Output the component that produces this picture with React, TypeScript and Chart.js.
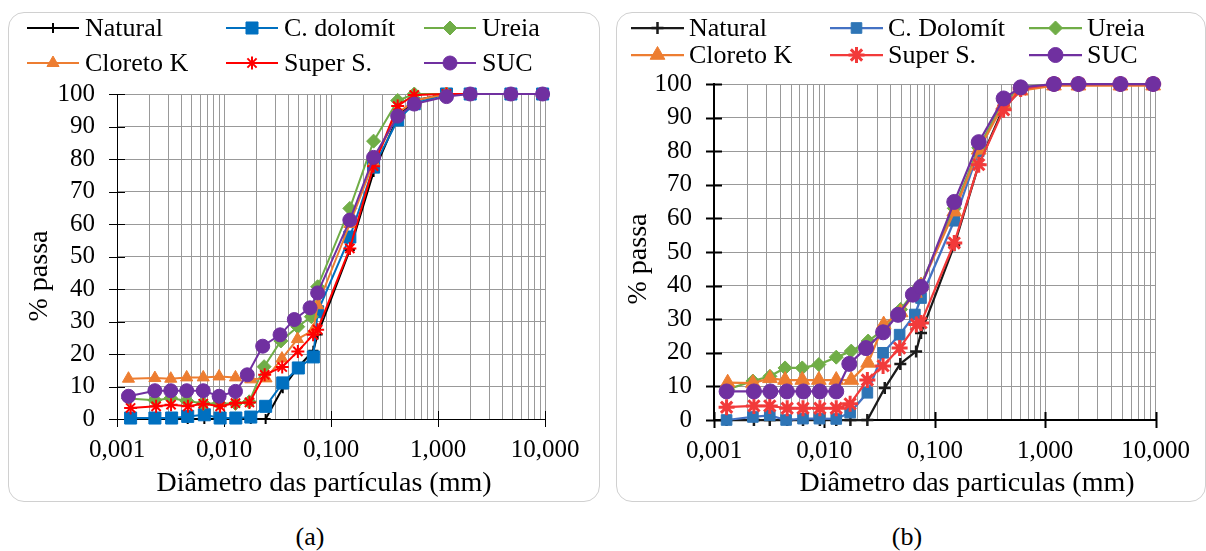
import React, { useEffect, useRef } from 'react';
import { Chart, registerables } from 'chart.js';
import { drawPoint } from 'chart.js/helpers';

Chart.register(...registerables);

const FONT = "'Liberation Serif', Tinos, 'Times New Roman', Times, 'Noto Serif', 'DejaVu Serif', FreeSerif, 'Nimbus Roman', serif";

// ---------- axis ticks ----------
const xTickValues = [0.001, 0.01, 0.1, 1, 10];
const xTickLabels = ['0,001', '0,010', '0,100', '1,000', '10,000'];
const minorMultipliers = [2, 3, 4, 5, 6, 7, 8, 9];
const yTickStep = 10;

// ---------- series names ----------
const namesA = ['Natural', 'C. dolomít', 'Ureia', 'Cloreto K', 'Super S.', 'SUC'];
const namesB = ['Natural', 'C. Dolomít', 'Ureia', 'Cloreto K', 'Super S.', 'SUC'];

// sieve diameters (mm), common to all series
const sieveD = [0.075, 0.15, 0.25, 0.42, 0.6, 1.2, 2.0, 4.8, 9.5];

// ---------- panel (a): sedimentation diameters + % passing ----------
const aNaturalD = [0.00134, 0.00226, 0.00324, 0.00458, 0.00655, 0.0092, 0.0129, 0.0178, 0.0245, 0.0354, 0.0495, 0.0684];
const aNatural = [0, 0, 0, 0, 0, 0, 0, 0, 0, 9.5, 16, 21, 26, 52, 76, 93, 98, 100, 100, 100, 100];
const aDolomitD = [0.00134, 0.00226, 0.00324, 0.00458, 0.00655, 0.0092, 0.0129, 0.0178, 0.0245, 0.0354, 0.0495, 0.0684];
const aDolomit = [0.3, 0.3, 0.3, 0.8, 1.3, 0.3, 0.3, 0.6, 3.9, 11.1, 15.7, 19.1, 33, 56, 77.5, 92, 97, 100, 100, 100, 100];
const aUreiaD = [0.00128, 0.00226, 0.00318, 0.00448, 0.0064, 0.009, 0.0128, 0.0172, 0.0237, 0.034, 0.0489, 0.0655];
const aUreia = [6.3, 5.8, 6.4, 5.6, 4.8, 4.8, 4.8, 5.3, 16.1, 24, 28.4, 31.5, 40.7, 64.8, 85.5, 98, 100, 100, 100, 100, 100];
const aCloretoD = [0.00128, 0.00226, 0.00318, 0.00448, 0.0064, 0.009, 0.0128, 0.0178, 0.0247, 0.0348, 0.0486, 0.0682];
const aCloreto = [12.4, 12.6, 12.4, 12.8, 12.8, 13.1, 12.8, 12.2, 12.5, 18.6, 24.6, 27.3, 35, 60, 79, 94, 98, 100, 100, 100, 100];
const aSuperD = [0.00134, 0.00232, 0.0032, 0.0046, 0.0064, 0.0092, 0.0128, 0.0173, 0.024, 0.035, 0.049, 0.068];
const aSuper = [3.4, 3.9, 4.4, 3.9, 4.7, 3.9, 4.9, 5.1, 13.6, 16, 20.8, 25.9, 27.5, 52.5, 77.8, 96.3, 99.7, 100, 100, 100, 100];
const aSucD = [0.00128, 0.00226, 0.00318, 0.00448, 0.0064, 0.009, 0.0128, 0.0165, 0.023, 0.0334, 0.0454, 0.0637];
const aSuc = [7.0, 8.7, 8.7, 8.7, 8.7, 7.0, 8.5, 13.6, 22.4, 25.9, 30.6, 34.2, 38.8, 61.2, 80.5, 93.2, 96.9, 99.2, 100, 100, 100];

// ---------- panel (b) ----------
const bNaturalD = [0.0013, 0.0023, 0.0032, 0.0046, 0.0064, 0.0091, 0.0128, 0.0172, 0.0245, 0.0352, 0.0487, 0.0677];
const bNatural = [0, 0, 0, 0, 0, 0, 0, 0, 0, 9.5, 16.7, 20.4, 25.9, 52, 76, 93, 98, 100, 100, 100, 100];
const bDolomitD = [0.0013, 0.00225, 0.0032, 0.0045, 0.0064, 0.009, 0.0128, 0.0171, 0.0245, 0.034, 0.048, 0.066];
const bDolomit = [0, 0.9, 1.4, 0, 0.4, 0.4, 0.3, 2.2, 8.1, 20, 25.4, 31.4, 36.3, 59.3, 80, 95, 98.5, 100, 100, 100, 100];
const bUreiaD = [0.00133, 0.00225, 0.00321, 0.0044, 0.0063, 0.0089, 0.0128, 0.0175, 0.0249, 0.0344, 0.049, 0.066];
const bUreia = [9.1, 11.6, 13, 15.5, 15.5, 16.5, 18.7, 20.5, 23.5, 26.9, 32.9, 38.3, 40.3, 63, 81, 95, 99, 100, 100, 100, 100];
const bCloretoD = [0.00133, 0.00225, 0.00321, 0.0044, 0.0063, 0.0089, 0.0128, 0.0175, 0.0249, 0.0344, 0.049, 0.066];
const bCloreto = [11.1, 11, 12.4, 11.9, 11.9, 11.9, 11.9, 11.9, 17, 28.4, 32, 37.8, 40, 62, 80.4, 94, 98, 99.5, 99.5, 99.5, 99.5];
const bSuperD = [0.0013, 0.0023, 0.0032, 0.0046, 0.0064, 0.0091, 0.0128, 0.0171, 0.0245, 0.034, 0.048, 0.068];
const bSuper = [3.8, 4.2, 4.2, 3.5, 3.5, 3.5, 3.5, 4.8, 11.9, 16.1, 21.4, 28.4, 28.9, 52.7, 76, 92.3, 98.5, 100, 100, 100, 100];
const bSucD = [0.0013, 0.0023, 0.00324, 0.00457, 0.00645, 0.0091, 0.0128, 0.0168, 0.0238, 0.034, 0.0465, 0.0633];
const bSuc = [8.5, 8.5, 8.5, 8.5, 8.5, 8.5, 8.5, 16.7, 21.4, 26.1, 31.3, 37.3, 39.6, 64.9, 82.7, 95.7, 99, 100, 100, 100, 100];

type Style = { color: string; pointColor: string; pointStyle: string; radius: number; pbw: number; lw: number };

const stylesA: Style[] = [
  { color: '#000000', pointColor: '#000000', pointStyle: 'cross', radius: 5, pbw: 2, lw: 2 },
  { color: '#0070C0', pointColor: '#0070C0', pointStyle: 'rect', radius: 8.5, pbw: 1, lw: 2 },
  { color: '#70AD47', pointColor: '#70AD47', pointStyle: 'rectRot', radius: 7, pbw: 1, lw: 2 },
  { color: '#ED7D31', pointColor: '#ED7D31', pointStyle: 'triangle', radius: 7, pbw: 1, lw: 2 },
  { color: '#FF0000', pointColor: '#FF0000', pointStyle: 'star', radius: 6.5, pbw: 2, lw: 2 },
  { color: '#7030A0', pointColor: '#7030A0', pointStyle: 'circle', radius: 7, pbw: 1, lw: 2 },
];
const stylesB: Style[] = [
  { color: '#1A1A1A', pointColor: '#1A1A1A', pointStyle: 'cross', radius: 6, pbw: 2.5, lw: 2.25 },
  { color: '#4472C4', pointColor: '#2E75B6', pointStyle: 'rect', radius: 7.5, pbw: 1, lw: 2.25 },
  { color: '#70AD47', pointColor: '#70AD47', pointStyle: 'rectRot', radius: 7, pbw: 1, lw: 2.25 },
  { color: '#ED7D31', pointColor: '#ED7D31', pointStyle: 'triangle', radius: 8.5, pbw: 1, lw: 2.25 },
  { color: '#F23A3A', pointColor: '#F23A3A', pointStyle: 'star', radius: 8, pbw: 3, lw: 2.25 },
  { color: '#7030A0', pointColor: '#7030A0', pointStyle: 'circle', radius: 7.5, pbw: 1, lw: 2.25 },
];

type Panel = {
  names: string[];
  diam: number[][];
  vals: number[][];
  styles: Style[];
  width: number;
  height: number;
  area: { left: number; top: number; right: number; bottom: number };
  axisWidth: number;
  legend: { cols: number[]; rows: number[]; lineLen: number; gap: number; size: number };
  xTitle: { text: string; x: number; y: number };
  yTitle: { text: string; x: number; y: number };
};

const panelA: Panel = {
  names: namesA,
  diam: [aNaturalD, aDolomitD, aUreiaD, aCloretoD, aSuperD, aSucD],
  vals: [aNatural, aDolomit, aUreia, aCloreto, aSuper, aSuc],
  styles: stylesA,
  width: 592,
  height: 490,
  area: { left: 109, top: 82, right: 537, bottom: 407 },
  axisWidth: 1,
  legend: { cols: [19, 218, 416], rows: [16, 51], lineLen: 52, gap: 6, size: 26 },
  xTitle: { text: 'Diâmetro das partículas (mm)', x: 316, y: 472 },
  yTitle: { text: '% passa', x: 32, y: 264 },
};

const panelB: Panel = {
  names: namesB,
  diam: [bNaturalD, bDolomitD, bUreiaD, bCloretoD, bSuperD, bSucD],
  vals: [bNatural, bDolomit, bUreia, bCloreto, bSuper, bSuc],
  styles: stylesB,
  width: 590,
  height: 490,
  area: { left: 98, top: 72, right: 544, bottom: 408 },
  axisWidth: 2,
  legend: { cols: [15, 214, 413], rows: [16, 43], lineLen: 53, gap: 5, size: 26 },
  xTitle: { text: 'Diâmetro das particulas (mm)', x: 351, y: 472 },
  yTitle: { text: '% passa', x: 23, y: 247 },
};

function buildXTicks(): { value: number; major: boolean }[] {
  const out: { value: number; major: boolean }[] = [];
  xTickValues.forEach((dec, i) => {
    out.push({ value: dec, major: true });
    if (i < xTickValues.length - 1) minorMultipliers.forEach((m) => out.push({ value: m * dec, major: false }));
  });
  return out;
}

function majorLabel(v: number): string {
  for (let i = 0; i < xTickValues.length; i++) {
    if (Math.abs(v - xTickValues[i]) < xTickValues[i] * 1e-6) return xTickLabels[i];
  }
  return '';
}

function makeDecor(p: Panel) {
  return {
    id: 'decor',
    beforeDatasetsDraw(chart: any) {
      const ctx = chart.ctx;
      const xs = chart.scales.x;
      const ys = chart.scales.y;
      const { left, bottom } = chart.chartArea;
      ctx.save();
      ctx.strokeStyle = '#000';
      ctx.lineWidth = p.axisWidth;
      ctx.beginPath();
      xTickValues.forEach((v) => {
        const px = Math.round(xs.getPixelForValue(v)) + 0.5;
        ctx.moveTo(px, bottom - 8);
        ctx.lineTo(px, bottom + 8);
      });
      for (let v = 0; v <= 100; v += yTickStep) {
        const py = Math.round(ys.getPixelForValue(v)) + 0.5;
        ctx.moveTo(left - 8, py);
        ctx.lineTo(left + 8, py);
      }
      ctx.stroke();
      ctx.restore();
    },
    afterDraw(chart: any) {
      const ctx = chart.ctx;
      ctx.save();
      const L = p.legend;
      chart.data.datasets.forEach((ds: any, i: number) => {
        const x0 = L.cols[i % 3];
        const y = L.rows[Math.floor(i / 3)];
        ctx.save();
        ctx.strokeStyle = ds.borderColor;
        ctx.lineWidth = ds.borderWidth;
        ctx.beginPath();
        ctx.moveTo(x0, y);
        ctx.lineTo(x0 + L.lineLen, y);
        ctx.stroke();
        ctx.fillStyle = ds.pointBackgroundColor;
        ctx.strokeStyle = ds.pointBorderColor;
        ctx.lineWidth = ds.pointBorderWidth;
        drawPoint(ctx, { pointStyle: ds.pointStyle, rotation: 0, radius: ds.pointRadius, borderWidth: ds.pointBorderWidth } as any, x0 + L.lineLen / 2, y);
        ctx.fillStyle = '#000';
        ctx.font = `${L.size}px ${FONT}`;
        ctx.textAlign = 'left';
        ctx.textBaseline = 'middle';
        ctx.fillText(ds.label, x0 + L.lineLen + L.gap, y + 1);
        ctx.restore();
      });
      ctx.fillStyle = '#000';
      ctx.font = `28px ${FONT}`;
      ctx.textAlign = 'center';
      ctx.textBaseline = 'middle';
      ctx.fillText(p.xTitle.text, p.xTitle.x, p.xTitle.y);
      ctx.save();
      ctx.translate(p.yTitle.x, p.yTitle.y);
      ctx.rotate(-Math.PI / 2);
      ctx.fillText(p.yTitle.text, 0, 0);
      ctx.restore();
      ctx.restore();
    },
  };
}

function ChartPanel({ p }: { p: Panel }) {
  const ref = useRef<HTMLCanvasElement | null>(null);
  useEffect(() => {
    if (!ref.current) return;
    const datasets = p.names.map((name, i) => {
      const s = p.styles[i];
      const d = p.diam[i].concat(sieveD);
      return {
        label: name,
        data: p.vals[i].map((v, k) => ({ x: d[k], y: v })),
        showLine: true,
        borderColor: s.color,
        backgroundColor: s.pointColor,
        borderWidth: s.lw,
        pointStyle: s.pointStyle,
        pointRadius: s.radius,
        pointBackgroundColor: s.pointColor,
        pointBorderColor: s.pointColor,
        pointBorderWidth: s.pbw,
        tension: 0,
        clip: false,
        order: p.names.length - i,
      };
    });
    const A = p.area;
    const chart = new Chart(ref.current, {
      type: 'scatter',
      data: { datasets } as any,
      options: {
        animation: false,
        responsive: false,
        events: [],
        layout: { padding: { top: A.top, right: p.width - A.right, left: 0, bottom: 0 } },
        plugins: { legend: { display: false }, tooltip: { enabled: false }, title: { display: false } },
        scales: {
          x: {
            type: 'logarithmic',
            min: xTickValues[0],
            max: xTickValues[xTickValues.length - 1],
            afterBuildTicks: (scale: any) => {
              scale.ticks = buildXTicks();
            },
            afterFit: (scale: any) => {
              scale.height = p.height - A.bottom;
            },
            ticks: {
              autoSkip: false,
              maxRotation: 0,
              minRotation: 0,
              padding: 16,
              color: '#000',
              font: { family: FONT, size: 25 },
              callback: (v: any) => majorLabel(Number(v)),
            },
            grid: { color: '#999999', lineWidth: 1, drawTicks: false },
            border: { display: true, color: '#000', width: p.axisWidth },
          },
          y: {
            type: 'linear',
            min: 0,
            max: 100,
            ticks: {
              stepSize: yTickStep,
              autoSkip: false,
              padding: 22,
              color: '#000',
              font: { family: FONT, size: 25 },
            },
            afterFit: (scale: any) => {
              scale.width = A.left;
            },
            grid: { color: '#999999', lineWidth: 1, drawTicks: false },
            border: { display: true, color: '#000', width: p.axisWidth },
          },
        },
      } as any,
      plugins: [makeDecor(p)],
    });
    return () => chart.destroy();
  }, [p]);
  return <canvas ref={ref} width={p.width} height={p.height} style={{ position: 'absolute', left: 0, top: 0, width: p.width, height: p.height }} />;
}

export default function App() {
  const boxStyle = (left: number, width: number): React.CSSProperties => ({
    position: 'absolute',
    left,
    top: 12,
    width,
    height: 490,
  });
  const border: React.CSSProperties = {
    position: 'absolute',
    left: 0,
    top: 0,
    right: 0,
    bottom: 0,
    border: '1px solid #d0d0d0',
    borderRadius: 16,
    boxSizing: 'border-box',
  };
  const caption = (x: number): React.CSSProperties => ({
    position: 'absolute',
    left: x - 40,
    width: 80,
    top: 520,
    textAlign: 'center',
    fontFamily: FONT,
    fontSize: 26,
    lineHeight: '34px',
    color: '#000',
  });
  return (
    <div style={{ position: 'absolute', left: 0, top: 0, width: 1206, height: 551, background: '#fff', overflow: 'hidden', fontFamily: FONT }}>
      <div style={boxStyle(8, 592)}>
        <div style={border} />
        <ChartPanel p={panelA} />
      </div>
      <div style={boxStyle(616, 590)}>
        <div style={border} />
        <ChartPanel p={panelB} />
      </div>
      <div style={caption(310)}>(a)</div>
      <div style={caption(907)}>(b)</div>
    </div>
  );
}
